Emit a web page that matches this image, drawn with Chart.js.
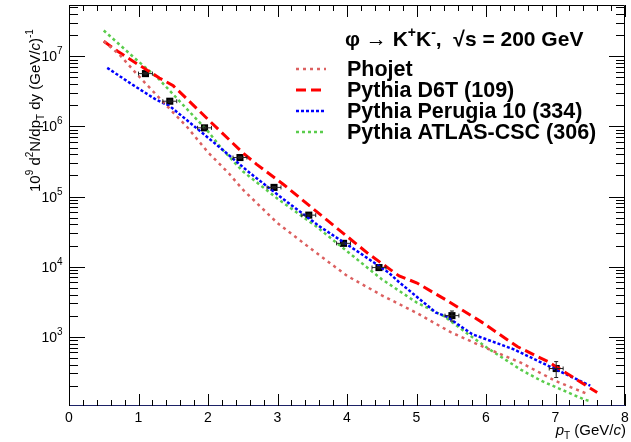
<!DOCTYPE html>
<html>
<head>
<meta charset="utf-8">
<script src="https://cdn.jsdelivr.net/npm/chart.js@4.4.1/dist/chart.umd.min.js"></script>
<style>
  html, body { margin: 0; padding: 0; background: #fff; }
  canvas { display: block; }
</style>
</head>
<body>
<canvas id="chart" width="631" height="442"></canvas>
<script>
// --- data (pT in GeV/c, yield) ---
const dataX    = [1.10, 1.45, 1.95, 2.46, 2.95, 3.45, 3.95, 4.46, 5.51, 7.01];
const dataY    = [5.67e6, 2.29e6, 9.55e5, 3.6e5, 1.35e5, 5.43e4, 2.15e4, 9.7e3, 2.0e3, 352];
const dataXErr = [0.1, 0.1, 0.1, 0.1, 0.1, 0.1, 0.1, 0.1, 0.1, 0.1];
const dataYErr = [2.0e5, 8e4, 3e4, 1.2e4, 4e3, 1.8e3, 7e2, 4e2, 330, 90];

const phojetX = [0.5, 0.73, 1.0, 1.4, 1.7, 2.0, 2.3, 2.5, 3.0, 3.5, 4.0, 4.5, 5.0, 5.5, 6.0, 6.5, 7.0, 7.47];
const phojetY = [1.64e7, 1.05e7, 5.25e6, 2.0e6, 9.8e5, 4.27e5, 2.14e5, 1.26e5, 4.17e4, 1.74e4, 7.4e3, 3.9e3, 2.19e3, 1.15e3, 690, 427, 234, 151];

const d6tX = [0.5, 0.7, 1.0, 1.3, 1.5, 1.7, 2.0, 2.5, 2.7, 3.1, 3.7, 4.3, 4.75, 5.0, 5.45, 5.95, 6.45, 6.9, 7.6];
const d6tY = [1.64e7, 1.18e7, 7.6e6, 4.92e6, 3.8e6, 2.45e6, 1.26e6, 4.21e5, 2.88e5, 1.45e5, 4.72e4, 1.55e4, 7350, 5890, 3240, 1590, 724, 437, 160];

const perugiaX = [0.55, 0.95, 1.25, 1.45, 1.83, 2.2, 2.6, 3.03, 3.6, 4.18, 4.6, 4.75, 5.28, 5.43, 5.8, 6.4, 6.95, 7.5];
const perugiaY = [6.84e6, 3.74e6, 2.42e6, 1.95e6, 9.55e5, 4.73e5, 2.18e5, 1.01e5, 3.78e4, 1.58e4, 8.2e3, 6.0e3, 2.21e3, 1.95e3, 1.09e3, 661, 363, 200];

const atlasX = [0.5, 0.95, 1.3, 1.6, 2.0, 2.2, 2.5, 3.0, 3.55, 4.1, 4.5, 5.0, 5.4, 5.7, 6.05, 6.5, 6.8, 7.4, 7.5];
const atlasY = [2.34e7, 9.33e6, 4.66e6, 2.24e6, 8.51e5, 4.79e5, 2.29e5, 9.33e4, 3.80e4, 1.38e4, 6.61e3, 3.09e3, 1.95e3, 1.17e3, 661, 339, 234, 129, 120];

const legendLabels = ['Phojet', 'Pythia D6T (109)', 'Pythia Perugia 10 (334)', 'Pythia ATLAS-CSC (306)'];
const xTickLabels = ['0', '1', '2', '3', '4', '5', '6', '7', '8'];
const yTickExps = [3, 4, 5, 6, 7];

const X_MIN = 0, X_MAX = 8, Y_MIN = 102.8, Y_MAX = 5.4e7;
const FONT = '"Liberation Sans", Arial, Helvetica, sans-serif';

const pts = (xs, ys) => xs.map((x, i) => ({ x, y: ys[i] }));

// draw a run of text pieces (for sub/superscripts); returns width
function richText(ctx, x, y, parts, align) {
  const fontOf = p => `${p.italic ? 'italic ' : ''}${p.bold ? 'bold ' : ''}${p.size}px ${FONT}`;
  let w = 0;
  parts.forEach(p => { ctx.font = fontOf(p); w += ctx.measureText(p.t).width; });
  let cx = align === 'right' ? x - w : align === 'center' ? x - w / 2 : x;
  ctx.textAlign = 'left';
  ctx.textBaseline = 'alphabetic';
  parts.forEach(p => {
    ctx.font = fontOf(p);
    ctx.fillText(p.t, cx, y + (p.dy || 0));
    cx += ctx.measureText(p.t).width;
  });
  return w;
}

// ROOT-like frame: box, inward ticks on all sides, labels, titles
const framePlugin = {
  id: 'frame',
  afterDraw(chart) {
    const { ctx, chartArea: a, scales: { x, y } } = chart;
    ctx.save();
    ctx.strokeStyle = '#000';
    ctx.lineWidth = 1;
    ctx.beginPath();
    ctx.moveTo(a.left + 0.5, a.bottom); ctx.lineTo(a.left + 0.5, a.top + 0.5);
    ctx.lineTo(a.right - 0.5, a.top + 0.5); ctx.lineTo(a.right - 0.5, a.bottom);
    ctx.stroke();
    ctx.strokeStyle = '#1c2266';
    ctx.beginPath();
    ctx.moveTo(a.left, a.bottom - 0.5); ctx.lineTo(a.right, a.bottom - 0.5);
    ctx.stroke();

    // x ticks
    ctx.strokeStyle = '#000';
    ctx.beginPath();
    for (let i = 0; i <= 40; i++) {
      const v = X_MIN + i * 0.2;
      const px = Math.round(x.getPixelForValue(v)) + 0.5;
      const len = i % 5 === 0 ? 12 : 6;
      ctx.moveTo(px, a.bottom); ctx.lineTo(px, a.bottom - len);
      ctx.moveTo(px, a.top); ctx.lineTo(px, a.top + len);
    }
    // y ticks
    for (let e = 2; e <= 7; e++) {
      for (let m = 1; m <= 9; m++) {
        const v = m * Math.pow(10, e);
        if (v < Y_MIN || v > Y_MAX) continue;
        const py = Math.round(y.getPixelForValue(v)) + 0.5;
        const len = m === 1 ? 16 : 9;
        ctx.moveTo(a.left, py); ctx.lineTo(a.left + len, py);
        ctx.moveTo(a.right, py); ctx.lineTo(a.right - len, py);
      }
    }
    ctx.stroke();

    // tick labels
    ctx.fillStyle = '#000';
    xTickLabels.forEach((t, i) => {
      richText(ctx, x.getPixelForValue(i), a.bottom + 16, [{ t, size: 14 }], 'center');
    });
    yTickExps.forEach(e => {
      const py = y.getPixelForValue(Math.pow(10, e));
      richText(ctx, a.left - 12, py + 5, [{ t: '10', size: 14 }], 'right');
      richText(ctx, a.left - 12, py - 2, [{ t: String(e), size: 10 }], 'left');
    });

    // x title
    richText(ctx, a.right + 1, a.bottom + 29, [
      { t: 'p', size: 15, italic: true },
      { t: 'T', size: 10, dy: 4 },
      { t: ' (GeV/', size: 15 },
      { t: 'c', size: 15, italic: true },
      { t: ')', size: 15 }
    ], 'right');

    // y title (rotated)
    ctx.save();
    ctx.translate(40, 192);
    ctx.rotate(-Math.PI / 2);
    richText(ctx, 0, 0, [
      { t: '10', size: 15 }, { t: '9', size: 10, dy: -7 },
      { t: ' d', size: 15 }, { t: '2', size: 10, dy: -7 },
      { t: 'N/dp', size: 15 }, { t: 'T', size: 10, dy: 4 },
      { t: ' dy (GeV/', size: 15 }, { t: 'c', size: 15, italic: true },
      { t: ')', size: 15 }, { t: '-1', size: 10, dy: -7 }
    ], 'left');
    ctx.restore();

    // header
    richText(ctx, 345, 46, [
      { t: '\u03c6 \u2192 K', size: 21, bold: true },
      { t: '+', size: 14, bold: true, dy: -9 },
      { t: 'K', size: 21, bold: true },
      { t: '-', size: 14, bold: true, dy: -9 },
      { t: ',  \u221as = 200 GeV', size: 21, bold: true }
    ], 'left');

    // legend
    const rows = [69, 90, 111, 132];
    chart.data.datasets.slice(0, 4).forEach((ds, i) => {
      ctx.save();
      ctx.strokeStyle = ds.borderColor;
      ctx.lineWidth = ds.borderWidth;
      ctx.setLineDash(ds.borderDash || []);
      ctx.beginPath();
      ctx.moveTo(296, rows[i]); ctx.lineTo(326, rows[i]);
      ctx.stroke();
      ctx.restore();
      richText(ctx, 347, rows[i] + 7, [{ t: legendLabels[i], size: 21.5, bold: true }], 'left');
    });
    ctx.restore();
  }
};

// error bars for the measured points
const errorBarPlugin = {
  id: 'errbars',
  afterDatasetsDraw(chart) {
    const { ctx, scales: { x, y } } = chart;
    ctx.save();
    ctx.strokeStyle = '#222';
    ctx.lineWidth = 1;
    ctx.beginPath();
    dataX.forEach((vx, i) => {
      const px = x.getPixelForValue(vx), py = y.getPixelForValue(dataY[i]);
      const x0 = x.getPixelForValue(vx - dataXErr[i]), x1 = x.getPixelForValue(vx + dataXErr[i]);
      const y0 = y.getPixelForValue(dataY[i] - dataYErr[i]), y1 = y.getPixelForValue(dataY[i] + dataYErr[i]);
      ctx.moveTo(x0, py); ctx.lineTo(x1, py);
      ctx.moveTo(x0, py - 2); ctx.lineTo(x0, py + 2);
      ctx.moveTo(x1, py - 2); ctx.lineTo(x1, py + 2);
      ctx.moveTo(px, y0); ctx.lineTo(px, y1);
      ctx.moveTo(px - 2, y0); ctx.lineTo(px + 2, y0);
      ctx.moveTo(px - 2, y1); ctx.lineTo(px + 2, y1);
    });
    ctx.stroke();
    ctx.restore();
  }
};

const curve = (data, color, dash, width) => ({
  data, borderColor: color, borderDash: dash, borderWidth: width,
  pointRadius: 0, fill: false, tension: 0
});

new Chart(document.getElementById('chart'), {
  type: 'line',
  data: {
    datasets: [
      curve(pts(phojetX, phojetY), '#dc6060', [3, 4], 2.5),
      curve(pts(d6tX, d6tY), '#ff0000', [10, 5], 3),
      curve(pts(perugiaX, perugiaY), '#0000ff', [3, 2], 2.5),
      curve(pts(atlasX, atlasY), '#5acc4c', [3, 3], 2.5),
      {
        data: pts(dataX, dataY), showLine: false,
        pointStyle: 'rect', pointRadius: 5, pointBackgroundColor: '#000',
        pointBorderColor: '#000', pointBorderWidth: 0
      }
    ]
  },
  options: {
    responsive: false,
    animation: false,
    layout: { padding: { left: 69, right: 6, top: 5, bottom: 36 } },
    plugins: { legend: { display: false }, tooltip: { enabled: false } },
    scales: {
      x: { type: 'linear', min: X_MIN, max: X_MAX, display: false },
      y: { type: 'logarithmic', min: Y_MIN, max: Y_MAX, display: false }
    }
  },
  plugins: [errorBarPlugin, framePlugin]
});
</script>
</body>
</html>
